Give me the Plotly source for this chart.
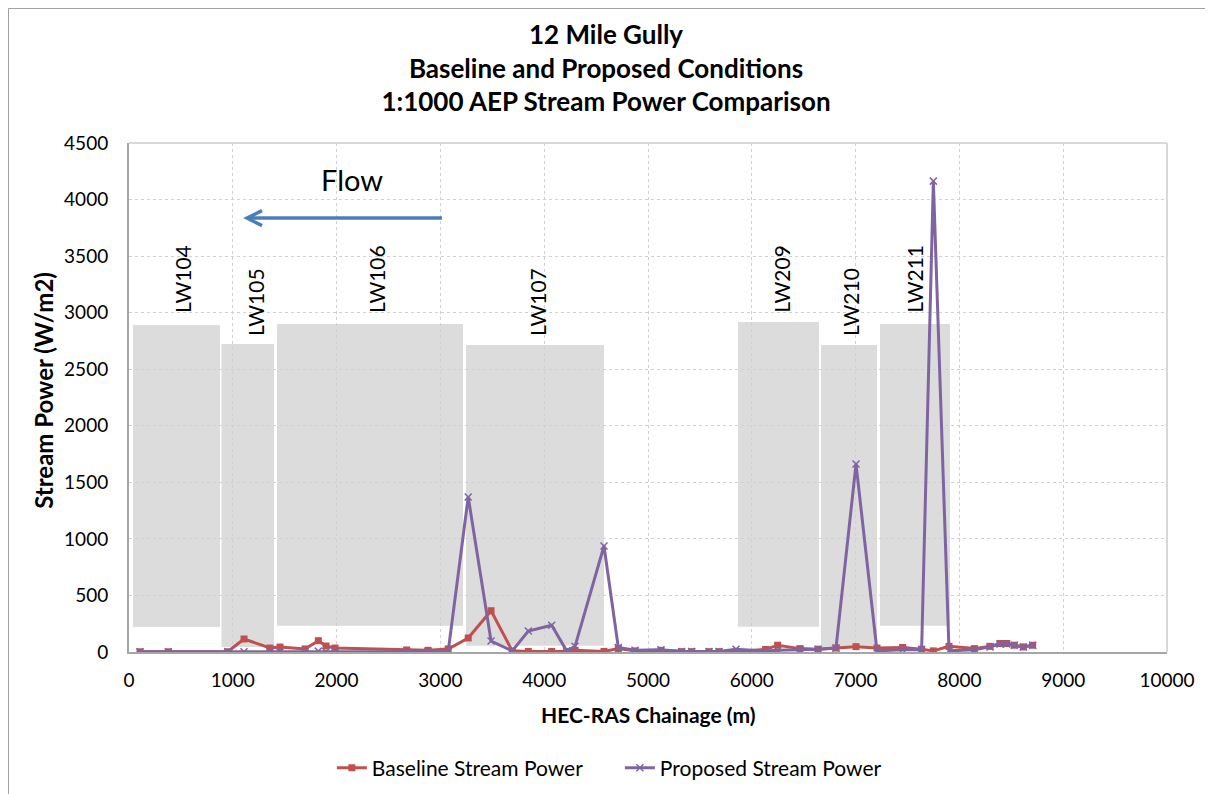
import plotly.graph_objects as go

# ---------------- data ----------------
chainage = [106, 379, 951, 1108, 1358, 1455, 1696, 1824, 1898, 1985, 2675, 2881, 3075,
            3268, 3488, 3692, 3847, 4072, 4216, 4297, 4576, 4714, 4875, 5125, 5324, 5421,
            5588, 5684, 5848, 6133, 6249, 6464, 6638, 6811, 7004, 7206, 7453, 7636, 7749,
            7900, 8144, 8295, 8391, 8455, 8529, 8616, 8706]
baseline = [2, 2, 2, 115, 35, 44, 27, 100, 53, 35, 18, 15, 27,
            124, 365, 10, 5, 5, 5, 15, 5, 30, 10, 15, 3, 3,
            3, 3, 5, 22, 60, 30, 25, 35, 47, 35, 40, 25, 10,
            50, 30, 50, 75, 75, 60, 45, 60]
proposed = [2, 2, 2, 2, 2, 3, 3, 8, 3, 3, 5, 5, 5,
            1370, 97, 10, 185, 236, 10, 50, 937, 40, 15, 20, 5, 5,
            5, 5, 25, 8, 15, 20, 25, 35, 1662, 10, 20, 20, 4163,
            10, 20, 45, 70, 70, 60, 45, 60]

# longwall panels: name, x start, x end, y bottom, y top
panel_names = ["LW104", "LW105", "LW106", "LW107", "LW209", "LW210", "LW211"]
panel_x0 = [39, 891, 1426, 3247, 5867, 6667, 7235]
panel_x1 = [877, 1397, 3218, 4576, 6647, 7206, 7909]
panel_y0 = [221, 44, 233, 56, 224, 40, 233]
panel_y1 = [2891, 2723, 2900, 2715, 2918, 2715, 2900]
label_x = [520, 1215, 2390, 3930, 6290, 6945, 7570]
label_y = [2980, 2776, 2980, 2776, 2980, 2776, 2980]

flow_start = (3015, 3836)
flow_end = (1137, 3836)
flow_text_pos = (2148, 4181)

X_RANGE = [0, 10000]
Y_RANGE = [0, 4500]

FONT = "Lato"

# plot area size in px (for arrow-head geometry)
PLOT_W, PLOT_H = 1038, 509
ux = (X_RANGE[1] - X_RANGE[0]) / PLOT_W
uy = (Y_RANGE[1] - Y_RANGE[0]) / PLOT_H

fig = go.Figure()

fig.add_trace(go.Scatter(
    x=chainage, y=baseline, mode="lines+markers", name="Baseline Stream Power",
    line=dict(color="#C0504D", width=3),
    marker=dict(symbol="square", size=7, color="#C0504D")))
fig.add_trace(go.Scatter(
    x=chainage, y=proposed, mode="lines+markers", name="Proposed Stream Power",
    line=dict(color="#8064A2", width=3),
    marker=dict(symbol="x-thin", size=7, line=dict(color="#8064A2", width=1.5), color="#8064A2")))

shapes = []
for x0, x1, y0, y1 in zip(panel_x0, panel_x1, panel_y0, panel_y1):
    shapes.append(dict(type="rect", xref="x", yref="y", x0=x0, x1=x1, y0=y0, y1=y1,
                       fillcolor="#DCDCDC", line=dict(width=0), layer="below"))
# flow arrow (shaft + open head)
tx, ty = flow_end
shapes.append(dict(type="line", xref="x", yref="y", x0=flow_start[0], y0=flow_start[1],
                   x1=tx + 1 * ux, y1=ty, line=dict(color="#4A7EBB", width=3.5)))
shapes.append(dict(type="path", xref="x", yref="y",
                   path=f"M {tx + 15*ux},{ty + 7.5*uy} L {tx},{ty} L {tx + 15*ux},{ty - 7.5*uy}",
                   line=dict(color="#4A7EBB", width=3.5)))
# plot area top/right light border
shapes.append(dict(type="line", xref="paper", yref="paper", x0=0, x1=1, y0=1, y1=1,
                   line=dict(color="#D9D9D9", width=2)))
shapes.append(dict(type="line", xref="paper", yref="paper", x0=1, x1=1, y0=0, y1=1,
                   line=dict(color="#D9D9D9", width=2)))
# chart area border (only left and top edges fall inside the picture)
shapes.append(dict(type="rect", xref="paper", yref="paper", x0=-0.1161, x1=1.2,
                   y0=-0.5, y1=1.2643, line=dict(color="#A0A0A0", width=1),
                   fillcolor="rgba(0,0,0,0)"))

annotations = []
for name, lx, ly in zip(panel_names, label_x, label_y):
    annotations.append(dict(x=lx, y=ly, xref="x", yref="y", text=name, showarrow=False,
                            textangle=-90, yanchor="bottom", xanchor="center",
                            font=dict(family=FONT, size=21, color="black")))
annotations.append(dict(x=flow_text_pos[0], y=flow_text_pos[1], xref="x", yref="y",
                        text="Flow", showarrow=False, xanchor="center", yanchor="middle",
                        font=dict(family=FONT, size=29, color="black")))
annotations.append(dict(x=-0.0819, y=0.515, xref="paper", yref="paper",
                        xanchor="center", yanchor="middle",
                        text="<b>Stream Power (W/m2)</b>", showarrow=False, textangle=-90,
                        font=dict(family=FONT, size=24, color="black")))
annotations.append(dict(x=0.5, y=-0.122, xref="paper", yref="paper",
                        xanchor="center", yanchor="middle",
                        text="<b>HEC-RAS Chainage (m)</b>", showarrow=False,
                        font=dict(family=FONT, size=21, color="black")))

fig.update_layout(
    width=1213, height=794,
    margin=dict(l=121, r=54, t=135, b=150),
    paper_bgcolor="white", plot_bgcolor="white",
    title=dict(text="<b>12 Mile Gully<br>Baseline and Proposed Conditions<br>1:1000 AEP Stream Power Comparison</b>",
               x=0.493, xanchor="center", y=0.955, yanchor="top",
               font=dict(family=FONT, size=26, color="black")),
    font=dict(family=FONT, color="black"),
    shapes=shapes, annotations=annotations,
    showlegend=True,
    legend=dict(orientation="h", xref="container", yref="container",
                x=0.267, xanchor="left", y=0.0428, yanchor="middle",
                font=dict(family=FONT, size=21, color="black"),
                entrywidth=243, entrywidthmode="pixels", bgcolor="rgba(0,0,0,0)"),
)
fig.update_xaxes(range=X_RANGE, dtick=1000, tick0=0, tickformat="d", showgrid=True,
                 gridcolor="#D0D0D0", griddash="dot", gridwidth=1, zeroline=False,
                 showline=True, linecolor="#A6A6A6", linewidth=2,
                 ticks="outside", ticklen=10, tickcolor="rgba(0,0,0,0)",
                 tickfont=dict(family=FONT, size=19, color="black"))
fig.update_yaxes(range=Y_RANGE, dtick=500, tick0=0, tickformat="d", showgrid=True,
                 gridcolor="#D0D0D0", griddash="dot", gridwidth=1, zeroline=False,
                 showline=True, linecolor="#A6A6A6", linewidth=2,
                 ticks="outside", ticklen=15, tickcolor="rgba(0,0,0,0)",
                 tickfont=dict(family=FONT, size=19, color="black"))

fig.write_html("out.html")
